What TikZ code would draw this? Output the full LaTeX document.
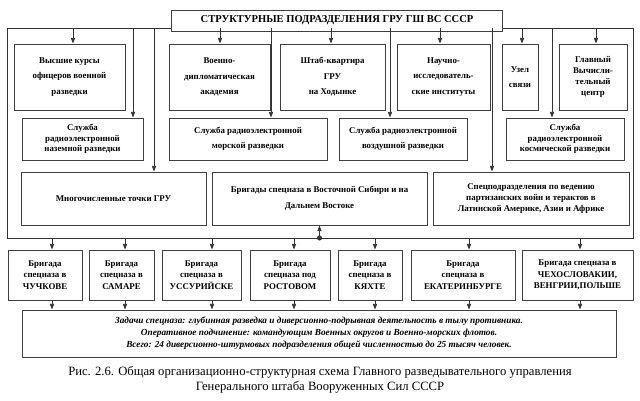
\documentclass[tikz,border=0pt]{standalone}
\usepackage{fontspec}
\setmainfont{Liberation Serif}
\usetikzlibrary{arrows.meta, positioning}
\def\pu{0.025cm}
\begin{document}
\begin{tikzpicture}[x=0.025cm, y=-0.025cm,
        box/.style={rectangle, draw=black!75, line width=0.7pt, fill=white, align=center, inner sep=1pt, font=\fontsize{6.3}{11}\selectfont\bfseries},
        arrow/.style={-{Triangle[width=3pt,length=4pt]}, line width=0.6pt, draw=black!80},
        frame/.style={line width=0.6pt, draw=black!80}
    ]
        \useasboundingbox (0,0) rectangle (640,401);
        % head
        \node[box, minimum width=331*\pu, minimum height=21*\pu, font=\fontsize{7.5}{9}\selectfont\bfseries] (head) at (337,20.5) {СТРУКТУРНЫЕ ПОДРАЗДЕЛЕНИЯ ГРУ ГШ ВС СССР};
        % first row
        \node[box, minimum width=111*\pu, minimum height=66*\pu] (kursy) at (69.5,77) {Высшие курсы\\офицеров военной\\разведки};
        \node[box, minimum width=101*\pu, minimum height=66*\pu] (akad) at (219.5,77) {Военно-\\дипломатическая\\академия};
        \node[box, minimum width=105*\pu, minimum height=66*\pu] (shtab) at (332.5,77) {Штаб-квартира\\ГРУ\\на Ходынке};
        \node[box, minimum width=93*\pu, minimum height=66*\pu] (nii) at (443.5,77) {Научно-\\исследователь-\\ские институты};
        \node[box, minimum width=36*\pu, minimum height=66*\pu] (uzel) at (520,77) {Узел\\связи};
        \node[box, minimum width=68*\pu, minimum height=66*\pu, font=\fontsize{6.3}{8}\selectfont\bfseries] (vc) at (593,77) {Главный\\Вычисли-\\тельный\\центр};
        % second row
        \node[box, minimum width=121*\pu, minimum height=42*\pu, font=\fontsize{6.3}{7.5}\selectfont\bfseries] (nazem) at (82.5,139) {Служба\\радиоэлектронной\\наземной разведки};
        \node[box, minimum width=158*\pu, minimum height=42*\pu] (morsk) at (248,139) {Служба радиоэлектронной\\морской разведки};
        \node[box, minimum width=128*\pu, minimum height=42*\pu] (vozd) at (403,139) {Служба радиоэлектронной\\воздушной разведки};
        \node[box, minimum width=118*\pu, minimum height=42*\pu, font=\fontsize{6.3}{7.5}\selectfont\bfseries] (kosm) at (565,139) {Служба\\радиоэлектронной\\космической разведки};
        % third row
        \node[box, minimum width=185*\pu, minimum height=53*\pu] (tochki) at (113.5,198.5) {Многочисленные точки ГРУ};
        \node[box, minimum width=215*\pu, minimum height=53*\pu] (vostok) at (319.5,198.5) {Бригады спецназа в Восточной Сибири и на\\Дальнем Востоке};
        \node[box, minimum width=196*\pu, minimum height=53*\pu, font=\fontsize{6.3}{8}\selectfont\bfseries] (partiz) at (531,198.5) {Спецподразделения по ведению\\партизанских войн и терактов в\\Латинской Америке, Азии и Африке};
        % brigades
        \node[box, minimum width=74*\pu, minimum height=50*\pu, font=\fontsize{6.3}{8}\selectfont\bfseries] (chuch) at (45,275) {Бригада\\спецназа в\\ЧУЧКОВЕ};
        \node[box, minimum width=65*\pu, minimum height=50*\pu, font=\fontsize{6.3}{8}\selectfont\bfseries] (samara) at (121.5,275) {Бригада\\спецназа в\\САМАРЕ};
        \node[box, minimum width=79*\pu, minimum height=50*\pu, font=\fontsize{6.3}{8}\selectfont\bfseries] (ussur) at (201.5,275) {Бригада\\спецназа в\\УССУРИЙСКЕ};
        \node[box, minimum width=80*\pu, minimum height=50*\pu, font=\fontsize{6.3}{8}\selectfont\bfseries] (rostov) at (290,275) {Бригада\\спецназа под\\РОСТОВОМ};
        \node[box, minimum width=64*\pu, minimum height=50*\pu, font=\fontsize{6.3}{8}\selectfont\bfseries] (kyahta) at (370,275) {Бригада\\спецназа в\\КЯХТЕ};
        \node[box, minimum width=104*\pu, minimum height=50*\pu, font=\fontsize{6.3}{8}\selectfont\bfseries] (ekat) at (463,275) {Бригада\\спецназа в\\ЕКАТЕРИНБУРГЕ};
        \node[box, minimum width=111*\pu, minimum height=50*\pu, font=\fontsize{6.3}{8}\selectfont\bfseries] (chsl) at (577.5,275) {Бригада спецназа в\\ЧЕХОСЛОВАКИИ,\\ВЕНГРИИ,ПОЛЬШЕ};
        % tasks
        \node[box, minimum width=594*\pu, minimum height=47*\pu, font=\fontsize{6.6}{8.5}\selectfont\bfseries\itshape] (zadachi) at (319,333.5) {Задачи спецназа: глубинная разведка и диверсионно-подрывная деятельность в тылу противника.\\Оперативное подчинение: командующим Военных округов и Военно-морских флотов.\\Всего: 24 диверсионно-штурмовых подразделения общей численностью до 25 тысяч человек.};
        \node[align=center, font=\fontsize{9}{11}\selectfont] (caption) at (320,380) {Рис. 2.6. Общая организационно-структурная схема Главного разведывательного управления\\Генерального штаба Вооруженных Сил СССР};
        % frame
        \coordinate (tl) at (7,28);
        \coordinate (tr) at (633,28);
        \coordinate (bl) at (7,238);
        \coordinate (br) at (633,238);
        \draw[frame] (head.west |- tl) -- (tl) -- (bl) -- (br) -- (tr) -- (head.east |- tr);
        \foreach \x/\t in {73/kursy, 133/nazem, 154/tochki, 220/akad, 271/morsk, 331/shtab, 390/vozd, 440/nii, 492/partiz, 522/uzel, 552/kosm, 596/vc}
            \draw[arrow] (\x,28) -- (\t.north -| \x,28);
        \coordinate (dot) at (vostok.south |- bl);
        \fill[black!80] (dot) circle (1.8pt);
        \draw[arrow] (dot) -- (vostok.south);
        \foreach \x/\t in {52/chuch, 125/samara, 212/ussur, 294/rostov, 375/kyahta, 469/ekat, 580/chsl} {
            \draw[arrow] (\x,238) -- (\t.north -| \x,238);
            \draw[arrow] (\t.south -| \x,238) -- (zadachi.north -| \x,238);
        }
\end{tikzpicture}
\end{document}
